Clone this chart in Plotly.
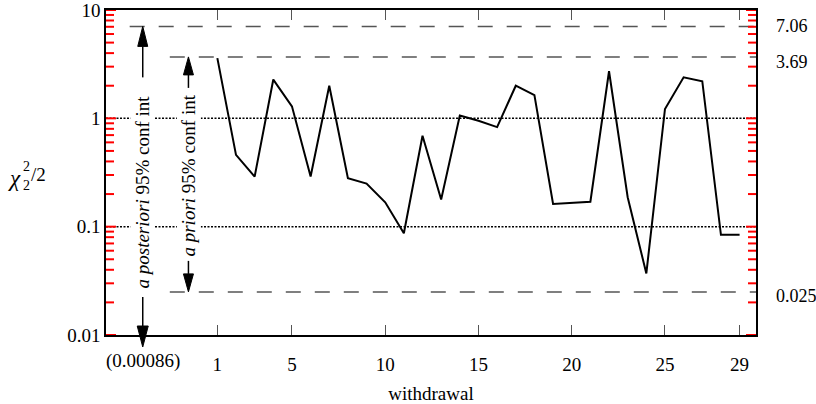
import math
import plotly.graph_objects as go

# ---------------- data ----------------
withdrawal = list(range(1, 30))
chi2_half = [3.6, 0.46, 0.29, 2.28, 1.29, 0.29, 2.0, 0.28, 0.25, 0.168,
             0.087, 0.69, 0.178, 1.06, 0.95, 0.83, 2.0, 1.64, 0.162, 0.166,
             0.170, 2.72, 0.187, 0.037, 1.22, 2.39, 2.2, 0.084, 0.084]

x_ticks = [1, 5, 10, 15, 20, 25, 29]
y_ticks = [0.01, 0.1, 1, 10]
y_ticktext = ["0.01", "0.1", "1", "10"]
y_minor = [round(m * d, 4) for d in (0.01, 0.1, 1) for m in range(2, 10)]

ref_levels = [0.1, 1]                 # dotted reference lines
posterior_bounds = [0.00086, 7.06]     # a posteriori 95% conf int
prior_bounds = [0.025, 3.69]           # a priori 95% conf int
right_labels = ["7.06", "3.69", "0.025"]
right_values = [7.06, 3.69, 0.025]
posterior_x = -3.0
prior_x = -0.55
posterior_line_start = -3.7
prior_line_start = -1.55

X_RANGE = [-4.97, 29.88]
Y_RANGE = [-2, 1]

FONT = "Liberation Serif"
FS = 19
W, H = 816, 404
ML, MR, MT, MB = 106, 60, 10, 69
PW, PH = W - ML - MR, H - MT - MB
X_PER_PX = (X_RANGE[1] - X_RANGE[0]) / PW


def xp(x):
    return (x - X_RANGE[0]) / (X_RANGE[1] - X_RANGE[0])


def yp(y):
    return (math.log10(y) - Y_RANGE[0]) / (Y_RANGE[1] - Y_RANGE[0])


def pxx(px):
    return (px - ML) / PW


def pxy(py):
    return (H - MB - py) / PH


fig = go.Figure()

# dotted reference lines
for lv in ref_levels:
    fig.add_trace(go.Scatter(x=X_RANGE, y=[lv, lv], mode="lines",
                             line=dict(color="black", width=1.5, dash="2px,1.5px"),
                             hoverinfo="skip", showlegend=False))

# dashed bound lines
fig.add_trace(go.Scatter(x=[posterior_line_start, X_RANGE[1]],
                         y=[posterior_bounds[1]] * 2, mode="lines",
                         line=dict(color="#555", width=1.5, dash="15px,14px"),
                         showlegend=False, hoverinfo="skip"))
for b in prior_bounds:
    fig.add_trace(go.Scatter(x=[prior_line_start, X_RANGE[1]], y=[b, b], mode="lines",
                             line=dict(color="#555", width=1.5, dash="15px,14px"),
                             showlegend=False, hoverinfo="skip"))

# inward y-axis ticks (left axis and right frame), one trace per tick
for v in y_ticks + y_minor:
    ln = (10 if v in y_ticks else 8) * X_PER_PX
    for x0, x1 in ((X_RANGE[0], X_RANGE[0] + ln), (X_RANGE[1], X_RANGE[1] - ln)):
        fig.add_trace(go.Scatter(x=[x0, x1], y=[v, v], mode="lines",
                                 line=dict(color="red", width=2),
                                 hoverinfo="skip", showlegend=False))

# data line
fig.add_trace(go.Scatter(x=withdrawal, y=chi2_half, mode="lines",
                         line=dict(color="black", width=2),
                         showlegend=False))

shapes = []


def arrow(xa, ya, tip, base, tail, hw):
    """vertical arrow anchored at paper (xa, ya); offsets in px (positive up)."""
    shapes.append(dict(type="line", xref="paper", yref="paper",
                       xsizemode="pixel", ysizemode="pixel",
                       xanchor=xa, yanchor=ya, x0=0, x1=0, y0=base, y1=tail,
                       line=dict(color="black", width=1.5)))
    shapes.append(dict(type="path", xref="paper", yref="paper",
                       xsizemode="pixel", ysizemode="pixel",
                       xanchor=xa, yanchor=ya,
                       path=f"M{-hw},{base} L{hw},{base} L0,{tip} Z",
                       fillcolor="black", line=dict(color="black", width=1)))


# a posteriori arrows
arrow(xp(posterior_x), yp(posterior_bounds[1]), 0, -20, -51, 5)
arrow(xp(posterior_x), 0, -12, 9, 38, 5.5)
# a priori arrows
arrow(xp(prior_x), yp(prior_bounds[1]), 0, -18, -31, 5)
arrow(xp(prior_x), yp(prior_bounds[0]), 0, 18, 31, 5)

annotations = []
annotations.append(dict(x=posterior_x, y=math.log10(0.21), xref="x", yref="y",
                        text="<i>a posteriori</i> 95% conf int", textangle=-90,
                        showarrow=False, bgcolor="white", borderpad=1,
                        font=dict(family=FONT, size=FS, color="black")))
annotations.append(dict(x=prior_x, y=-0.524, xref="x", yref="y",
                        text="<i>a priori</i> 95% conf int", textangle=-90,
                        showarrow=False, bgcolor="white", borderpad=1,
                        font=dict(family=FONT, size=FS, color="black")))

# right-side bound labels
for lab, v, sh in zip(right_labels, right_values, [0, -5, -4]):
    annotations.append(dict(x=1, y=yp(v), xref="paper", yref="paper",
                            xanchor="left", yanchor="middle", xshift=18, yshift=sh,
                            text=lab, showarrow=False,
                            font=dict(family=FONT, size=18, color="black")))

# (0.00086) label under the axis
annotations.append(dict(x=xp(posterior_x), y=pxy(361), xref="paper", yref="paper",
                        xanchor="center", yanchor="middle", text="(0.00086)",
                        showarrow=False, font=dict(family=FONT, size=FS, color="black")))

# y axis title chi_2^2/2 with stacked indices
annotations.append(dict(x=pxx(15), y=pxy(178), xref="paper", yref="paper",
                        xanchor="center", yanchor="middle", text="<i>χ</i>",
                        showarrow=False, font=dict(family=FONT, size=23, color="black")))
annotations.append(dict(x=pxx(26), y=pxy(166), xref="paper", yref="paper",
                        xanchor="center", yanchor="middle", text="2",
                        showarrow=False, font=dict(family=FONT, size=14, color="black")))
annotations.append(dict(x=pxx(26), y=pxy(185), xref="paper", yref="paper",
                        xanchor="center", yanchor="middle", text="2",
                        showarrow=False, font=dict(family=FONT, size=14, color="black")))
annotations.append(dict(x=pxx(38), y=pxy(174), xref="paper", yref="paper",
                        xanchor="center", yanchor="middle", text="/2",
                        showarrow=False, font=dict(family=FONT, size=FS, color="black")))

fig.update_layout(
    width=W, height=H,
    margin=dict(l=ML, r=MR, t=MT, b=MB, autoexpand=False),
    plot_bgcolor="white", paper_bgcolor="white",
    font=dict(family=FONT, size=FS, color="black"),
    shapes=shapes, annotations=annotations,
    xaxis=dict(range=X_RANGE, tickmode="array", tickvals=x_ticks,
               ticks="inside", ticklen=10, tickwidth=1, tickcolor="#555",
               showline=True, linecolor="black", linewidth=2, mirror="ticks",
               showgrid=False, zeroline=False, ticklabelstandoff=11,
               automargin=False, ticklabeloverflow="allow",
               tickfont=dict(family=FONT, size=FS),
               title=dict(text="withdrawal", standoff=14,
                          font=dict(family=FONT, size=FS))),
    yaxis=dict(type="log", range=Y_RANGE, tickmode="array",
               tickvals=y_ticks, ticktext=y_ticktext, ticks="",
               automargin=False, ticklabeloverflow="allow",
               showline=True, linecolor="black", linewidth=1.5, mirror=True,
               showgrid=False, zeroline=False,
               tickfont=dict(family=FONT, size=FS)),
)

fig.write_html("out.html")
